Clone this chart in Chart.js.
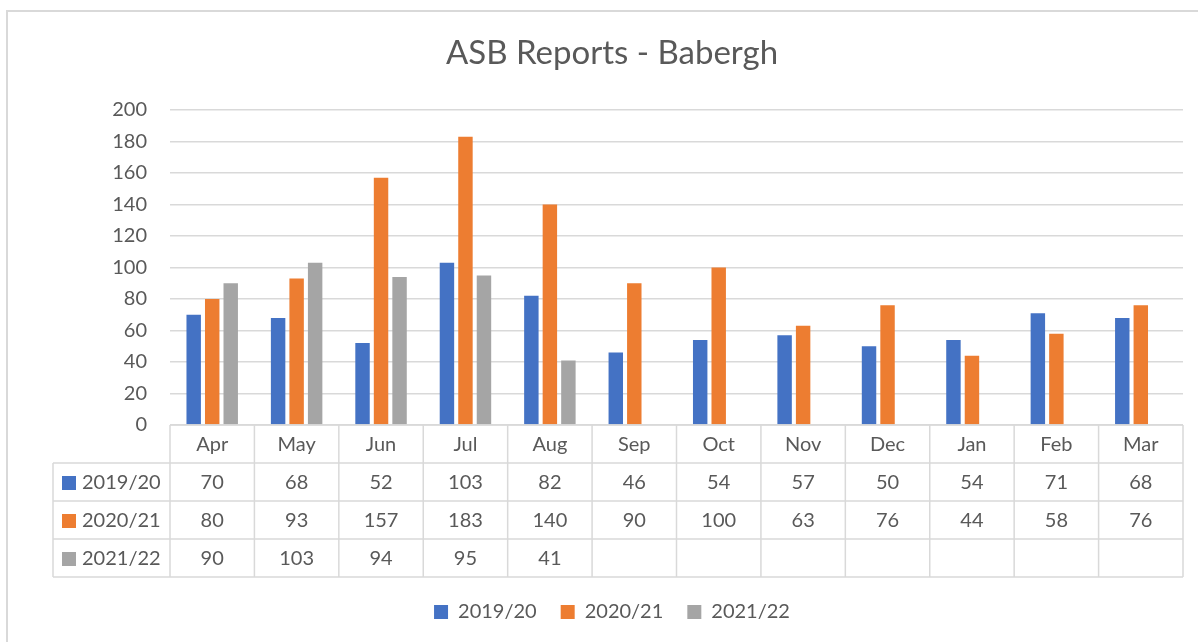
<!DOCTYPE html>
<html>
<head>
<meta charset="utf-8">
<script src="https://cdn.jsdelivr.net/npm/chart.js@4/dist/chart.umd.min.js"></script>
<style>
  html, body { margin: 0; padding: 0; background: #fff; overflow: hidden; }
  #wrap { position: relative; width: 1198px; height: 642px; }
  #frame { position: absolute; left: 6px; top: 10px; width: 1300px; height: 1000px;
           border-left: 2px solid #d9d9d9; border-top: 2px solid #d9d9d9; }
  #chart { position: absolute; left: 0; top: 0; }
</style>
</head>
<body>
<div id="wrap">
  <div id="frame"></div>
  <canvas id="chart" width="1198" height="642"></canvas>
</div>
<script>
// data
const months = ['Apr', 'May', 'Jun', 'Jul', 'Aug', 'Sep', 'Oct', 'Nov', 'Dec', 'Jan', 'Feb', 'Mar']
const y2019 = [70, 68, 52, 103, 82, 46, 54, 57, 50, 54, 71, 68]
const y2020 = [80, 93, 157, 183, 140, 90, 100, 63, 76, 44, 58, 76]
const y2021 = [90, 103, 94, 95, 41, null, null, null, null, null, null, null]
const seriesNames = ['2019/20', '2020/21', '2021/22']
const yTicks = [0, 20, 40, 60, 80, 100, 120, 140, 160, 180, 200]

const colors = ['#4472C4', '#ED7D31', '#A5A5A5']
const textColor = '#595959'
const lineColor = '#d9d9d9'
const font = 'Lato'

// data table drawn under the plot, columns follow the x scale
const dataTable = {
	id: 'dataTable',
	afterDraw(chart) {
		const ctx = chart.ctx
		const xs = chart.scales.x
		const top = xs.top
		const rowH = 38
		const colW = xs.width / months.length
		const left = 53
		const bottom = top + rowH * 4

		ctx.save()
		ctx.strokeStyle = lineColor
		ctx.lineWidth = 1.5
		ctx.beginPath()
		// header row
		ctx.moveTo(xs.left, top)
		ctx.lineTo(xs.right, top)
		for (let r = 1; r <= 4; r++) {
			ctx.moveTo(left, top + r * rowH)
			ctx.lineTo(xs.right, top + r * rowH)
		}
		for (let c = 0; c <= months.length; c++) {
			const x = xs.left + c * colW
			ctx.moveTo(x, top)
			ctx.lineTo(x, bottom)
		}
		ctx.moveTo(left, top + rowH)
		ctx.lineTo(left, bottom)
		ctx.stroke()

		ctx.font = '20px ' + font
		ctx.fillStyle = textColor
		ctx.textAlign = 'center'
		ctx.textBaseline = 'middle'
		months.forEach((m, i) => {
			ctx.fillText(m, xs.getPixelForValue(i), top + rowH / 2 + 1)
		})
		chart.data.datasets.forEach((ds, r) => {
			const cy = top + rowH * (r + 1) + rowH / 2 + 1
			ds.data.forEach((v, i) => {
				if (v === null) return
				ctx.fillText(String(v), xs.getPixelForValue(i), cy)
			})
			ctx.fillStyle = ds.backgroundColor
			ctx.fillRect(62, cy - 7, 14, 14)
			ctx.fillStyle = textColor
			ctx.textAlign = 'left'
			ctx.fillText(ds.label, 82, cy)
			ctx.textAlign = 'center'
		})
		ctx.restore()
	}
}

const ctx = document.getElementById('chart').getContext('2d')
const chart = new Chart(ctx, {
	type: 'bar',
	data: {
		labels: months,
		datasets: [
			{ label: seriesNames[0], data: y2019, backgroundColor: colors[0] },
			{ label: seriesNames[1], data: y2020, backgroundColor: colors[1] },
			{ label: seriesNames[2], data: y2021, backgroundColor: colors[2] }
		]
	},
	options: {
		responsive: false,
		animation: false,
		layout: { padding: { left: 41, right: 15, top: 0, bottom: 10 } },
		datasets: {
			bar: { categoryPercentage: 0.658, barPercentage: 0.78 }
		},
		scales: {
			x: {
				ticks: { display: false },
				grid: { display: false },
				border: { display: false },
				afterFit(scale) { scale.height = 153 }
			},
			y: {
				min: 0,
				max: 200,
				afterBuildTicks(scale) { scale.ticks = yTicks.map(v => ({ value: v })) },
				ticks: { padding: 23, color: textColor, font: { family: font, size: 20 } },
				grid: { color: lineColor, lineWidth: 1.5, drawTicks: false },
				border: { display: false },
				afterFit(scale) { scale.width = 129 }
			}
		},
		plugins: {
			title: {
				display: true,
				text: 'ASB Reports - Babergh',
				color: textColor,
				font: { family: font, size: 33, weight: 'normal', lineHeight: 1.2 },
				padding: { top: 34, bottom: 36.4 }
			},
			legend: {
				position: 'bottom',
				labels: {
					boxWidth: 14,
					boxHeight: 14,
					padding: 24,
					color: textColor,
					font: { family: font, size: 20 }
				}
			},
			tooltip: { enabled: false }
		}
	},
	plugins: [dataTable]
})
</script>
</body>
</html>
